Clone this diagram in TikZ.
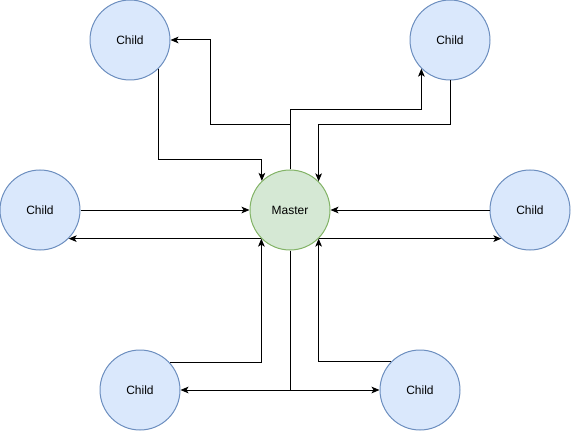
\documentclass[tikz,border=0pt]{standalone}
\usepackage{fontspec}
\setmainfont{Liberation Sans}
\usetikzlibrary{arrows.meta}
\definecolor{childfill}{HTML}{DAE8FC}
\definecolor{childline}{HTML}{6C8EBF}
\definecolor{masterfill}{HTML}{D5E8D4}
\definecolor{masterline}{HTML}{82B366}
\tikzset{
  childnode/.style={circle,draw=childline,fill=childfill,line width=0.75pt,minimum size=60pt,inner sep=0pt,font=\fontsize{9pt}{11pt}\selectfont},
  masternode/.style={circle,draw=masterline,fill=masterfill,line width=0.75pt,minimum size=60pt,inner sep=0pt,font=\fontsize{9pt}{11pt}\selectfont},
  arr/.style={line width=0.75pt,-{Stealth[length=6pt,width=5pt,inset=1.5pt]}},
  ln/.style={line width=0.75pt}
}
\begin{document}
\begin{tikzpicture}[x=0.75pt,y=-0.75pt]
\useasboundingbox (0,0) rectangle (571,431);
\node[childnode] (tl) at (130,40) {Child};
\node[childnode] (tr) at (450,40) {Child};
\node[childnode] (l) at (40,210) {Child};
\node[masternode] (m) at (290,210) {Master};
\node[childnode] (r) at (530,210) {Child};
\node[childnode] (bl) at (140,390) {Child};
\node[childnode] (br) at (420,390) {Child};
% top
\draw[arr] (m.north) |- (210,125) |- (tl.east);
\draw[arr] (m.north) -- (m.north |- 0,110) -| (tr.225.6);
\draw[arr] (tl.-45.6) -- (tl.-45.6 |- 0,160) -| (m.134.4);
\draw[arr] (tr.south) -- (tr.south |- 0,125) -| (m.45.6);
% sides
\draw[arr] (l.east) -- (m.west);
\draw[arr] (m.225) -- (l.-45);
\draw[arr] (r.west) -- (m.east);
\draw[arr] (m.-45) -- (r.225);
% bottom
\draw[arr] (bl.42) -| (m.225.6);
\draw[arr] (br.136) -| (m.-45.6);
\draw[arr] (m.south) |- (bl.east);
\draw[arr] (m.south) |- (br.west);
\end{tikzpicture}
\end{document}
